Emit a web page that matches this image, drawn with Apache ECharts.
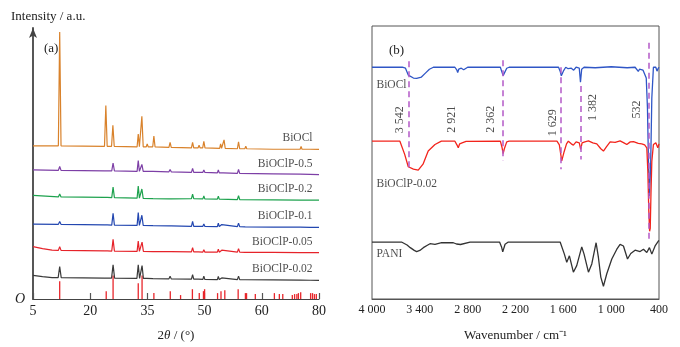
<!DOCTYPE html>
<html lang="en">
<head>
<meta charset="utf-8"/>
<script src="https://cdn.jsdelivr.net/npm/echarts@6.0.0/dist/echarts.min.js"></script>
<style>
    html, body { margin: 0; padding: 0; background: #fff; }
    #main { width: 680px; height: 347px; }
</style>
</head>
<body>
<div id="main"></div>
<script>
// ---- (a) XRD patterns, [2theta, intensity] ----
var xrdBiOCl = [[5,156],[11.65,156],[12.0,272],[12.35,156],[23.75,155.5],[24.1,197],[24.45,155.5],
    [25.6,155.5],[25.95,177],[26.3,155.5],[32.3,155],[32.6,168],[32.9,155],[33.25,155],[33.55,186],[33.9,155],
    [34.7,155],[34.95,158],[35.2,155],[36.4,155],[36.7,166],[37.0,155],[40.65,154.5],[40.95,159.5],[41.25,154.5],
    [46.55,154],[46.85,159.5],[47.15,154],[48.3,154],[48.55,156.5],[48.8,154],[49.5,154],[49.8,160.5],[50.1,154],
    [53.95,153.5],[54.2,158],[54.45,153.5],[54.8,153.5],[55.1,162],[55.4,153.5],[58.6,153],[58.9,160],[59.2,153],
    [60.55,153],[60.8,155.5],[61.05,153],[67.95,152.5],[68.2,154.5],[68.45,152.5],[75.05,152.5],[75.3,155.5],
    [75.55,152.5],[77.65,152.5],[77.9,154.5],[78.15,152.5],[80,152.3]];
var xrdP05 = [[5,131.5],[11.65,131],[12.0,135],[12.35,131],[23.75,130.5],[24.1,131.5],[24.45,130.5],
    [25.65,130.5],[26.0,138.5],[26.35,130.5],[32.3,130],[32.6,141],[32.9,130],[33.25,130],[33.55,137],[33.9,130],
    [36.45,130],[36.7,132],[36.95,130],[40.65,129.5],[40.95,132],[41.25,129.5],[46.55,129],[46.85,133],[47.15,129],
    [49.55,129],[49.8,131.5],[50.05,129],[53.35,128.5],[53.6,131.5],[53.85,128.5],[54.85,128.5],[55.1,130],[55.35,128.5],
    [58.6,128],[58.9,132],[59.2,128],[67.95,127.5],[68.2,128.5],[68.45,127.5],[75.05,127.2],[75.3,128.2],[75.55,127.2],
    [77.65,127],[77.9,128.5],[78.15,127],[80,126.7]];
var xrdP02 = [[5,105.5],[11.65,104],[12.0,107],[12.35,104],[23.75,103.5],[24.1,104.5],[24.45,103.5],
    [25.65,103.3],[26.0,114],[26.35,103.3],[32.3,102.7],[32.6,115],[32.9,102.7],[33.25,102.5],[33.55,112],[33.9,102.5],
    [36.45,102.3],[36.7,104.3],[36.95,102.3],[40.65,102],[40.95,104],[41.25,102],[46.55,102.3],[46.85,106.7],[47.15,102.3],
    [49.55,102],[49.8,105],[50.05,102],[53.35,101.7],[53.6,104.7],[53.85,101.7],[58.6,101.3],[58.9,105.3],[59.2,101.3],
    [67.95,101],[68.2,102],[68.45,101],[75.05,100.8],[75.3,102],[75.55,100.8],[77.65,100.7],[77.9,102],[78.15,100.7],
    [80,100.7]];
var xrdP01 = [[5,76.3],[11.65,76],[12.0,79],[12.35,76],[23.75,75.5],[24.1,76.5],[24.45,75.5],
    [25.65,75.3],[26.0,87.3],[26.35,75.3],[32.3,75],[32.6,88],[32.9,75],[33.25,75],[33.55,85.3],[33.9,75],
    [36.45,74.8],[36.7,76.8],[36.95,74.8],[40.65,74.5],[40.95,76.5],[41.25,74.5],[46.55,74],[46.85,79],[47.15,74],
    [48.35,74],[48.6,76],[48.85,74],[49.55,74],[49.8,76.5],[50.05,74],[53.35,73.8],[53.6,77.3],[53.85,73.8],
    [54.25,73.8],[54.5,75.8],[54.75,73.8],[58.6,73.7],[58.9,77.3],[59.2,73.7],[60.65,73.5],[60.9,75],[61.15,73.5],
    [67.95,73.3],[68.2,74.3],[68.45,73.3],[75.05,73.2],[75.3,74.7],[75.55,73.2],[77.65,73],[77.9,74.5],[78.15,73],
    [80,73]];
var xrdP005 = [[5,53.3],[7.5,51.3],[10,49.7],[11.65,49.5],[12.0,53.3],[12.35,49.5],[23.75,49],[24.1,50.5],[24.45,49],
    [25.65,48.7],[26.0,60.7],[26.35,48.7],[32.3,48.5],[32.6,59],[32.9,48.5],[33.3,48.5],[33.6,58],[33.95,48.5],
    [36.45,48.3],[36.7,50.3],[36.95,48.3],[40.65,48.2],[40.95,50.2],[41.25,48.2],[46.55,48],[46.85,52.3],[47.15,48],
    [48.35,48],[48.6,49],[48.85,48],[49.55,47.8],[49.8,50.3],[50.05,47.8],[53.35,47.7],[53.6,50.7],[53.85,47.7],
    [54.25,47.7],[54.5,49.7],[54.75,47.7],[58.6,47.7],[58.9,51.3],[59.2,47.7],[60.65,47.5],[60.9,49],[61.15,47.5],
    [67.95,47.5],[68.2,48.5],[68.45,47.5],[75.05,47.3],[75.3,48.3],[75.55,47.3],[77.65,47.3],[77.9,48.8],[78.15,47.3],
    [80,47.3]];
var xrdP002 = [[5,24],[7.5,22.7],[10,21.8],[11.6,21.7],[12.0,33],[12.4,21.7],[23.75,21.3],[24.1,23.3],[24.45,21.3],
    [25.6,21.2],[26.0,34.7],[26.4,21.2],[32.25,21],[32.6,34.7],[32.95,21],[33.25,21],[33.6,34],[33.95,21],
    [34.8,21],[35.05,22.5],[35.3,21],[36.45,20.8],[36.7,22.8],[36.95,20.8],[40.65,20.5],[40.95,23.3],[41.25,20.5],
    [46.55,20.2],[46.85,24.7],[47.15,20.2],[48.35,20.2],[48.6,21.5],[48.85,20.2],[49.55,20],[49.8,23.3],[50.05,20],
    [53.35,19.8],[53.6,23],[53.85,19.8],[54.25,19.8],[54.5,21.5],[54.75,19.8],[58.6,19.7],[58.9,23.3],[59.2,19.7],
    [60.65,19.6],[60.9,21],[61.15,19.6],[67.95,19.4],[68.2,20.6],[68.45,19.4],[75.05,19.2],[75.3,20.5],[75.55,19.2],
    [77.65,19.1],[77.9,20.7],[78.15,19.1],[80,19]];
// standard card lines (red sticks)
var refLines = [[12.0,18],[24.2,8],[26.0,24],[32.6,16],[33.6,24],[36.7,6],[41.0,8],[43.7,4],[46.8,10],[48.6,6],
    [49.7,8],[50.0,10],[53.4,6],[54.3,8],[55.3,9],[58.8,10],[60.7,6],[61.0,6],[63.3,5],[68.3,6],[69.6,5],[70.5,5],
    [73.0,4],[73.6,5],[74.2,5],[74.6,6],[75.2,7],[77.8,6],[78.3,6],[78.8,5],[79.3,5]];
var xrdNames = ['BiOCl', 'BiOClP-0.5', 'BiOClP-0.2', 'BiOClP-0.1', 'BiOClP-0.05', 'BiOClP-0.02'];
var xrdTicks = [5, 20, 35, 50, 65, 80];
var xrdTickText = ['5', '20', '35', '50', '60', '80'];

// ---- (b) FTIR spectra, [wavenumber, transmittance] ----
var irBiOCl = [[4000,236],[3620,236],[3580,235],[3545,228],[3530,226.5],[3480,225],[3440,224.7],[3380,226],
    [3330,230],[3280,234],[3230,236],[2960,236],[2935,233],[2925,230.5],[2912,234],[2880,235],[2850,233.5],
    [2830,235],[2800,236],[2390,236],[2370,231],[2355,227.5],[2340,230],[2310,235],[2280,236],[1660,236],
    [1640,232],[1625,227.3],[1600,232],[1570,236],[1540,234.5],[1500,235],[1470,233],[1440,236],[1400,235],
    [1385,220.7],[1370,234],[1340,236],[1200,235.5],[1000,236.5],[800,235.5],[700,236],[680,234],[660,231.7],
    [645,234],[600,233],[560,225],[545,195],[532,140],[520,105],[512,105],[505,135],[490,205],[470,236],[455,238],
    [440,236],[425,232],[412,234.5],[400,236]];
var irP002 = [[4000,160.7],[3650,160.7],[3590,147.3],[3545,134.7],[3480,132.3],[3420,131.3],[3360,137.3],
    [3295,150.7],[3210,157.3],[3130,160.7],[2960,160.7],[2935,157],[2918,154],[2900,158],[2870,159],[2846,157.3],
    [2820,160.5],[2390,160.7],[2368,154],[2355,148],[2340,153],[2310,160],[2280,160.7],[1680,160.7],[1650,157],
    [1620,140.7],[1590,150],[1560,158],[1537,160.7],[1500,158],[1474,156.7],[1440,160],[1400,159],[1382,152.3],
    [1365,159],[1330,160],[1285,161],[1230,159],[1180,158],[1130,153],[1097,150.7],[1060,155],[1013,160],
    [950,159.5],[888,161],[840,159],[804,157.3],[760,160],[720,160.3],[660,158.5],[616,158],[580,157],[553,154],
    [540,130],[528,90],[518,69],[510,72],[500,110],[490,140],[470,157.3],[440,159],[415,154],[400,158]];
var irPANI = [[4000,58],[3630,58],[3560,55],[3520,52.3],[3470,49.5],[3440,48.3],[3400,49.5],[3356,52.3],
    [3300,55],[3272,56.3],[3210,55.7],[3126,57.3],[2980,57.3],[2940,56],[2917,54],[2890,55.5],[2875,56.7],
    [2770,58],[2400,58],[2375,53],[2360,48],[2345,52],[2331,55.7],[2290,58],[1640,58],[1620,58.5],[1587,45.7],
    [1557,37.3],[1524,44],[1503,42.3],[1474,27.3],[1432,34],[1369,53],[1340,45.7],[1285,27.3],[1243,35.7],
    [1222,37.3],[1189,57.3],[1160,42.3],[1130,22.3],[1097,13],[1055,25.7],[992,40.7],[929,50.7],[888,55.7],
    [846,54],[795,40.7],[754,46.3],[700,49.7],[637,48.3],[595,50.7],[553,47.3],[520,52.3],[490,45.7],[449,54],
    [408,59],[400,59.5]];
var irNames = ['BiOCl', 'BiOClP-0.02', 'PANI'];
// marked bands: wavenumber, dashed line top / bottom
var bandMarks = [3542, 2921, 2362, 1629, 1382, 532];
var dashBands = [3542, 2362, 1629, 1382, 532];
var dashTop = [242, 243, 236, 217, 261];
var dashBottom = [130, 141, 132, 142, 61];
var irTicks = [4000, 3400, 2800, 2200, 1600, 1000, 400];

var serif = "'Times New Roman', 'Liberation Serif', serif";
var xrdColors = ['#d9822b', '#7d3fa6', '#1ea24e', '#2347b0', '#e6232a', '#3a3a3a'];
var irColors = ['#2f56c6', '#f2241c', '#333333'];

function groupNum(n) {
    if (n < 1000) return String(n);
    return Math.floor(n / 1000) + ' ' + String(n % 1000).padStart(3, '0');
}

var chart = echarts.init(document.getElementById('main'));

var xrdData = [xrdBiOCl, xrdP05, xrdP02, xrdP01, xrdP005, xrdP002];
var series = [];

series.push({
    type: 'bar', xAxisIndex: 0, yAxisIndex: 0, data: refLines,
    barWidth: 1.3, itemStyle: {color: '#e8262b'}, silent: true, z: 1
});
xrdData.forEach(function (d, i) {
    series.push({
        name: xrdNames[i], type: 'line', xAxisIndex: 0, yAxisIndex: 0,
        data: d, showSymbol: false, symbol: 'none', silent: true,
        lineStyle: {color: xrdColors[i], width: 1.2}
    });
});
// pattern names, right end of each pattern
series.push({
    type: 'scatter', xAxisIndex: 0, yAxisIndex: 0, silent: true,
    symbolSize: 1, itemStyle: {color: 'transparent'},
    data: xrdData.map(function (d, i) { return {value: d[d.length - 1], name: xrdNames[i]}; }),
    label: {
        show: true, position: 'left', distance: 6, offset: [0, -11],
        formatter: '{b}', color: '#222', fontFamily: serif, fontSize: 11.5
    }
});

var irData = [irBiOCl, irP002, irPANI];
irData.forEach(function (d, i) {
    series.push({
        name: irNames[i], type: 'line', xAxisIndex: 1, yAxisIndex: 1,
        data: d, showSymbol: false, symbol: 'none', silent: true,
        lineStyle: {color: irColors[i], width: 1.3}
    });
});
var irLabelDy = [18, 43, 12];
series.push({
    type: 'scatter', xAxisIndex: 1, yAxisIndex: 1, silent: true,
    symbolSize: 1, itemStyle: {color: 'transparent'},
    data: irData.map(function (d, i) {
        return {value: d[0], name: irNames[i], label: {offset: [0, irLabelDy[i]]}};
    }),
    label: {
        show: true, position: 'right', distance: 4,
        formatter: '{b}', color: '#222', fontFamily: serif, fontSize: 11.5
    }
});
// dashed band lines
series.push({
    type: 'line', xAxisIndex: 1, yAxisIndex: 1, data: [], z: 5, silent: true,
    markLine: {
        silent: true, symbol: ['none', 'none'], animation: false,
        label: {show: false},
        lineStyle: {color: '#b45ac8', type: [6, 4], width: 1.5},
        data: dashBands.map(function (b, i) {
            return [{coord: [b, dashTop[i]]}, {coord: [b, dashBottom[i]]}];
        })
    }
});
// band values, rotated (offset is in the rotated frame: [along text, across text])
var bandLabelY = [182.5, 183, 183, 179.5, 195, 193];
var bandLabelDx = [-8.5, -6, -11.5, -8.5, 12, -11.5];
series.push({
    type: 'scatter', xAxisIndex: 1, yAxisIndex: 1, silent: true,
    symbolSize: 1, itemStyle: {color: 'transparent'},
    data: bandMarks.map(function (b, i) {
        return {value: [b, bandLabelY[i]], name: groupNum(b), label: {offset: [0, bandLabelDx[i]]}};
    }),
    label: {
        show: true, position: 'inside', rotate: 90,
        formatter: '{b}', color: '#222', fontFamily: serif, fontSize: 12
    }
});

var option = {
    animation: false,
    backgroundColor: '#fff',
    title: [
        {text: 'Intensity / a.u.', left: 6, top: 5,
            textStyle: {fontFamily: serif, fontSize: 13, fontWeight: 'normal', color: '#222'}},
        {text: '(a)', left: 39, top: 37,
            textStyle: {fontFamily: serif, fontSize: 13, fontWeight: 'normal', color: '#222'}},
        {text: '(b)', left: 384, top: 39,
            textStyle: {fontFamily: serif, fontSize: 13, fontWeight: 'normal', color: '#222'}}
    ],
    grid: [
        {left: 33, top: 28, width: 286, bottom: 43},
        {left: 372, top: 26, width: 287, bottom: 43, show: true, borderColor: '#555', borderWidth: 1}
    ],
    xAxis: [
        {
            gridIndex: 0, type: 'value', min: 5, max: 80, interval: 15,
            name: '2{i|θ} / (°)', nameLocation: 'middle', nameGap: 30,
            nameTextStyle: {fontFamily: serif, fontSize: 13, color: '#222',
                rich: {i: {fontFamily: serif, fontSize: 13, fontStyle: 'italic', color: '#222'}}},
            axisLine: {lineStyle: {color: '#444', width: 1.2}},
            axisTick: {show: true, inside: true, length: 6, lineStyle: {color: '#555', width: 1.2}},
            axisLabel: {
                fontFamily: serif, fontSize: 14, color: '#222', margin: 5,
                formatter: function (v) {
                    var k = xrdTicks.indexOf(v);
                    return k >= 0 ? xrdTickText[k] : '';
                }
            },
            splitLine: {show: false}
        },
        {
            gridIndex: 1, type: 'value', min: 400, max: 4000, interval: 600, inverse: true,
            name: 'Wavenumber / cm⁻¹', nameLocation: 'middle', nameGap: 30,
            nameTextStyle: {fontFamily: serif, fontSize: 13, color: '#222'},
            axisLine: {lineStyle: {color: '#555', width: 1}},
            axisTick: {show: false},
            axisLabel: {
                fontFamily: serif, fontSize: 12, color: '#222', margin: 5,
                formatter: function (v) { return irTicks.indexOf(v) >= 0 ? groupNum(v) : ''; }
            },
            splitLine: {show: false}
        }
    ],
    yAxis: [
        {
            gridIndex: 0, type: 'value', min: 0, max: 276, interval: 276,
            axisLine: {show: true, symbol: ['none', 'arrow'], symbolSize: [6, 10],
                lineStyle: {color: '#444', width: 1.8}},
            axisTick: {show: false},
            axisLabel: {
                margin: 8, fontFamily: serif, fontSize: 14, fontStyle: 'italic', color: '#222',
                formatter: function (v) { return v === 0 ? 'O' : ''; }
            },
            splitLine: {show: false}
        },
        {
            gridIndex: 1, type: 'value', min: 0, max: 278,
            axisLine: {show: false}, axisTick: {show: false}, axisLabel: {show: false},
            splitLine: {show: false}
        }
    ],
    series: series
};
chart.setOption(option);
</script>
</body>
</html>
